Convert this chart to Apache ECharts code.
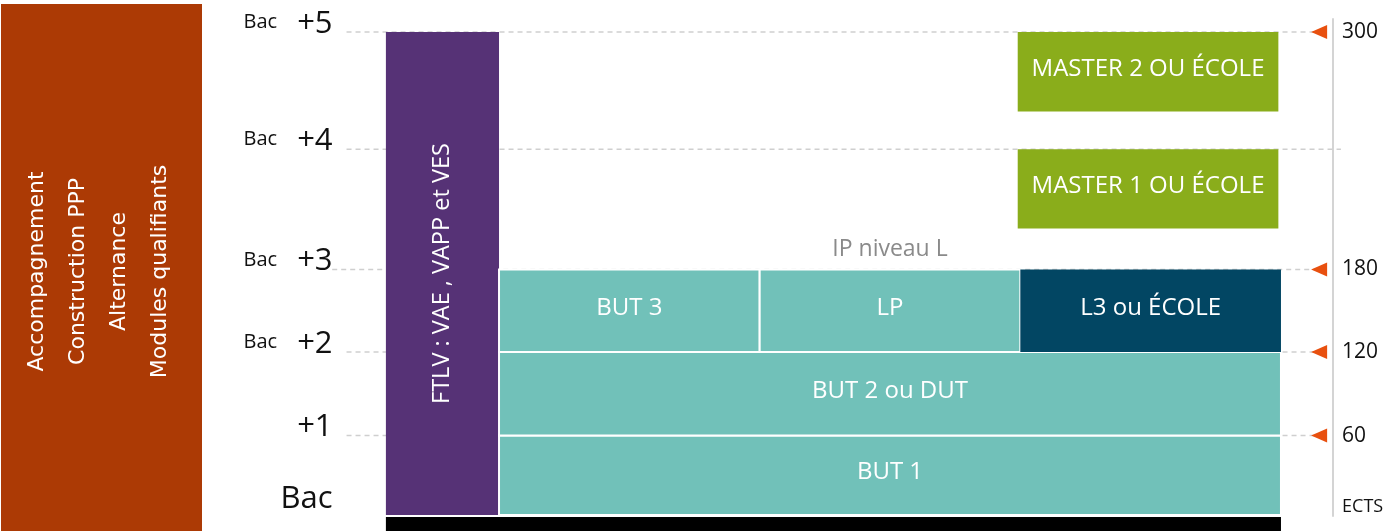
<!DOCTYPE html>
<html lang="fr">
<head>
  <meta charset="UTF-8">
  <title>Parcours BUT</title>
  <script src="https://cdn.jsdelivr.net/npm/echarts@6/dist/echarts.min.js"></script>
  <style>html,body{margin:0;padding:0;background:#fff;}</style>
</head>
<body>
<!-- conteneur du schéma -->
<div id="box" style="width: 1389px;height: 531px;"></div>
<script>
  // niveaux : Bac, +1 ... +5 (haut de chaque niveau sur l'axe vertical)
  var levelNames = ['Bac', '+1', '+2', '+3', '+4', '+5'];
  var levelTop = [0, 0.97, 1.99, 3.0, 4.47, 5.9];
  // crédits ECTS repérés à droite
  var ectsLevels = [1, 2, 3, 5];
  var ectsValues = ['60', '120', '180', '300'];
  // blocs du parcours : colonnes (0..3) et niveaux bas / haut
  var blockNames = ['FTLV : VAE , VAPP et VES', 'BUT 1', 'BUT 2 ou DUT', 'BUT 3', 'LP', 'L3 ou ÉCOLE', 'MASTER 1 OU ÉCOLE', 'MASTER 2 OU ÉCOLE', ''];
  var blockKinds = ['ftlv', 'but', 'but', 'but', 'but', 'l3', 'master', 'master', 'socle'];
  var blockX0 = [-0.434, 0, 0, 0, 1, 2, 1.99, 1.99, -0.434];
  var blockX1 = [0, 3, 3, 1, 2, 3, 2.99, 2.99, 3.0];
  var blockY0 = [0, 0, 0.97, 1.99, 1.99, 1.99, 3.5, 4.93, -0.2];
  var blockY1 = [5.9, 0.97, 1.99, 3.0, 3.0, 3.0, 4.47, 5.9, -0.025];
  // encadré de gauche
  var sideLines = ['Accompagnement', 'Construction PPP', 'Alternance', 'Modules qualifiants'];
  var ipLabel = 'IP niveau L';

  var kindColor = {ftlv: '#563276', but: '#71c1b9', l3: '#024663', master: '#8aad1b', socle: '#000'};
  var yMin = -0.0125, yMax = 6.06;

  var myChart = echarts.init(document.getElementById('box'));

  var blockData = blockNames.map(function (n, i) {
    return [blockX0[i], blockX1[i], blockY0[i], blockY1[i], n, blockKinds[i]];
  });

  function renderBlock(params, api) {
    var d = blockData[params.dataIndex];
    var a = api.coord([d[0], d[3]]);
    var b = api.coord([d[1], d[2]]);
    var kind = d[5];
    var children = [{
      type: 'rect',
      shape: {x: a[0], y: a[1], width: b[0] - a[0], height: b[1] - a[1]},
      style: {fill: kindColor[kind], stroke: kind === 'but' ? '#fff' : null, lineWidth: 2}
    }];
    if (d[4]) {
      var vertical = kind === 'ftlv';
      children.push({
        type: 'text',
        x: (a[0] + b[0]) / 2,
        y: (a[1] + b[1]) / 2 - (vertical ? 0 : 3),
        rotation: vertical ? Math.PI / 2 : 0,
        style: {
          text: d[4], fill: '#fff',
          font: (vertical ? 23.5 : 24) + 'px "Open Sans"',
          align: 'center', verticalAlign: 'middle', textAlign: 'center', textVerticalAlign: 'middle'
        }
      });
    }
    return {type: 'group', children: children};
  }

  function renderGridLine(params, api) {
    var lv = api.value(0);
    var y = api.coord([0, levelTop[lv]])[1];
    var x0 = api.coord([lv === 3 ? -0.64 : -0.585, 0])[0];
    var x1 = api.coord([lv === 4 ? 3.23 : 3.15, 0])[0];
    return {
      type: 'line',
      shape: {x1: x0, y1: y, x2: x1, y2: y},
      style: {stroke: '#cfcfcf', lineWidth: 1.5, lineDash: [5, 4]}
    };
  }

  // flèche orange pointant vers la gauche
  function renderArrow(params, api) {
    var p = api.coord([api.value(0), api.value(1)]);
    return {
      type: 'polygon',
      shape: {points: [[p[0], p[1] - 7], [p[0], p[1] + 7], [p[0] - 16, p[1]]]},
      style: {fill: '#e8500f'}
    };
  }

  function renderSide(params, api) {
    var a = api.coord([0, 1]);
    var b = api.coord([1, 0]);
    return {
      type: 'group',
      children: [{
        type: 'rect',
        shape: {x: a[0], y: a[1], width: b[0] - a[0], height: b[1] - a[1]},
        style: {fill: '#ac3a05'}
      }, {
        type: 'text',
        x: (a[0] + b[0]) / 2 - 3,
        y: (a[1] + b[1]) / 2 + 4,
        rotation: Math.PI / 2,
        style: {
          text: sideLines.join('\n'), fill: '#fff', font: '22px "DejaVu Sans"', lineHeight: 41,
          align: 'center', verticalAlign: 'middle', textAlign: 'center', textVerticalAlign: 'middle'
        }
      }]
    };
  }

  var ectsY = 0.1;
  var rightValues = [ectsY].concat(ectsLevels.map(function (l) { return levelTop[l]; }));

  var option = {
    animation: false,
    grid: [
      {left: 329.6, right: 55.9, top: 19, bottom: 15},
      {left: 1, width: 201, top: 4, bottom: 0}
    ],
    xAxis: [
      {gridIndex: 0, type: 'value', min: -0.65, max: 3.2, show: false},
      {gridIndex: 1, type: 'value', min: 0, max: 1, show: false}
    ],
    yAxis: [
      {
        gridIndex: 0, type: 'value', min: yMin, max: yMax, position: 'left',
        axisLine: {show: false}, axisTick: {show: false}, splitLine: {show: false},
        axisLabel: {
          customValues: levelTop, margin: -3, verticalAlign: 'bottom', color: '#111',
          formatter: function (v) {
            var i = levelTop.indexOf(v);
            if (i === 0) return '{big|' + levelNames[0] + '}';
            if (i === 1) return '{b|' + levelNames[1] + '}';
            return '{s|Bac}{b|' + levelNames[i] + '}';
          },
          rich: {
            s: {fontSize: 20, fontFamily: 'Open Sans', color: '#111', lineHeight: 16, padding: [0, 20, 3, 0]},
            b: {fontSize: 31, fontFamily: 'Open Sans', color: '#111', lineHeight: 16},
            big: {fontSize: 31, fontFamily: 'Open Sans', color: '#111', lineHeight: 32}
          }
        }
      },
      {
        gridIndex: 0, type: 'value', min: yMin, max: yMax, position: 'right',
        axisLine: {show: true, lineStyle: {color: '#d4d4d4', width: 2}},
        axisTick: {show: false}, splitLine: {show: false},
        axisLabel: {
          customValues: rightValues, margin: 9, color: '#111',
          formatter: function (v) {
            var i = rightValues.indexOf(v);
            if (i === 0) return '{e|ECTS}';
            return '{n|' + ectsValues[i - 1] + '}';
          },
          rich: {
            e: {fontSize: 18, fontFamily: 'Open Sans', color: '#111'},
            n: {fontSize: 21, fontFamily: 'Open Sans', color: '#111'}
          }
        }
      },
      {gridIndex: 1, type: 'value', min: 0, max: 1, show: false}
    ],
    series: [
      {
        type: 'custom', xAxisIndex: 0, yAxisIndex: 0, z: 1,
        renderItem: renderGridLine,
        data: [1, 2, 3, 4, 5]
      },
      {
        type: 'custom', xAxisIndex: 0, yAxisIndex: 0, z: 2,
        renderItem: renderBlock,
        data: blockData.map(function (d) { return [d[0], d[1], d[2], d[3]]; })
      },
      {
        type: 'custom', xAxisIndex: 0, yAxisIndex: 0, z: 2,
        renderItem: function (params, api) {
          var p = api.coord([api.value(0), api.value(1)]);
          return {
            type: 'text', x: p[0], y: p[1],
            style: {
              text: ipLabel, fill: '#8a8a8a', font: '23px "Open Sans"',
              align: 'center', verticalAlign: 'middle', textAlign: 'center', textVerticalAlign: 'middle'
            }
          };
        },
        data: [[1.5, 3.25]]
      },
      {
        type: 'custom', xAxisIndex: 0, yAxisIndex: 0, z: 3,
        renderItem: renderArrow,
        data: ectsLevels.map(function (l) { return [3.177, levelTop[l]]; })
      },
      {
        type: 'custom', xAxisIndex: 1, yAxisIndex: 2,
        renderItem: renderSide,
        data: [[0, 0]]
      }
    ]
  };
  myChart.setOption(option);
</script>
</body>
</html>
